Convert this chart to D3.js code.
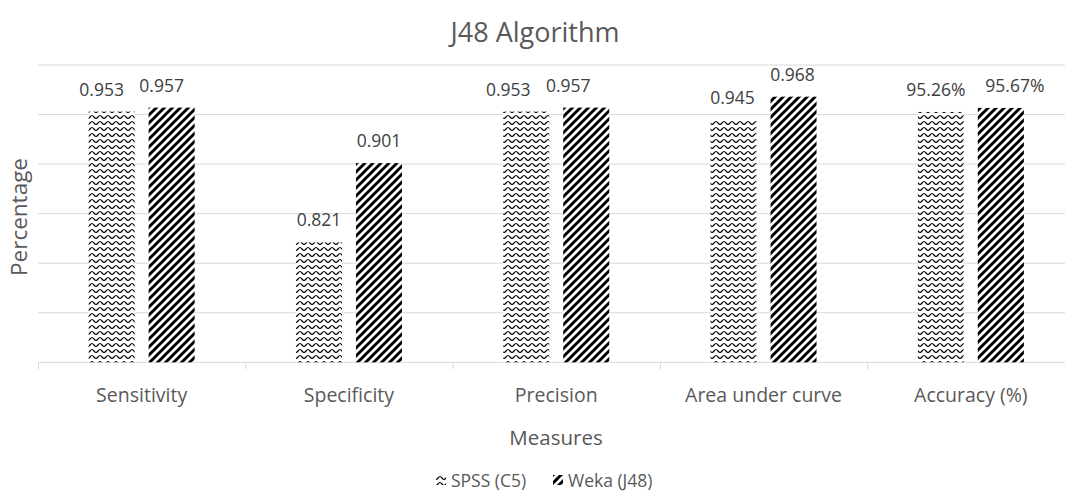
<!DOCTYPE html>
<html>
<head>
<meta charset="utf-8">
<script src="https://cdn.jsdelivr.net/npm/d3@7"></script>
<style>
  html, body { margin: 0; padding: 0; background: #fff; }
  svg { display: block; font-family: "Open Sans", "Noto Sans", sans-serif; }
</style>
</head>
<body>
<svg id="chart" width="1065" height="493"></svg>
<script>
// Measures compared between the two tools
const categories = ["Sensitivity", "Specificity", "Precision", "Area under curve", "Accuracy (%)"];
const seriesNames = ["SPSS (C5)", "Weka (J48)"];
const spssValues = [0.953, 0.821, 0.953, 0.945, 0.9526];
const wekaValues = [0.957, 0.901, 0.957, 0.968, 0.9567];
const spssLabels = ["0.953", "0.821", "0.953", "0.945", "95.26%"];
const wekaLabels = ["0.957", "0.901", "0.957", "0.968", "95.67%"];
const yTicks = [0.7, 0.75, 0.8, 0.85, 0.9, 0.95, 1.0];

(function () {
const svg = d3.select("#chart");
const defs = svg.append("defs");

// Wave fill for SPSS
const wave = defs.append("pattern").attr("id", "wave")
  .attr("patternUnits", "userSpaceOnUse").attr("width", 8).attr("height", 6);
wave.append("rect").attr("width", 8).attr("height", 6).attr("fill", "#fff");
wave.append("path").attr("d", "M0,4.5 C1.5,4.5 2.5,1.5 4,1.5 C5.5,1.5 6.5,4.5 8,4.5")
  .attr("fill", "none").attr("stroke", "#000").attr("stroke-width", 1.2);

// Wide upward diagonal fill for Weka
const diag = defs.append("pattern").attr("id", "diag")
  .attr("patternUnits", "userSpaceOnUse").attr("width", 8).attr("height", 8);
diag.append("rect").attr("width", 8).attr("height", 8).attr("fill", "#fff");
diag.append("path").attr("d", "M-2,2 L2,-2 M0,8 L8,0 M6,10 L10,6")
  .attr("stroke", "#000").attr("stroke-width", 3).attr("stroke-linecap", "square");

const fills = ["url(#wave)", "url(#diag)"];

const plotLeft = 38, plotRight = 1074.5, plotTop = 65, plotBottom = 362.3;

const x = d3.scaleBand().domain(categories).range([plotLeft, plotRight]).paddingInner(0).paddingOuter(0);
const barW = 46, barGap = 14;
const inner = d3.scaleBand().domain(seriesNames)
  .range([0, 2 * barW + barGap]).paddingInner(barGap / (barW + barGap)).paddingOuter(0);
const groupOffset = (x.bandwidth() - (2 * barW + barGap)) / 2;

const y = d3.scaleLinear().domain([0.7, 1.0]).range([plotBottom, plotTop]);

// Gridlines
svg.append("g").selectAll("line").data(yTicks.slice(1)).join("line")
  .attr("x1", plotLeft).attr("x2", plotRight)
  .attr("y1", d => y(d)).attr("y2", d => y(d))
  .attr("stroke", "#d9d9d9").attr("stroke-width", 1);

// Category axis
const xAxis = svg.append("g").attr("transform", `translate(0,${plotBottom})`)
  .call(d3.axisBottom(x).tickSize(0).tickPadding(0));
xAxis.select(".domain").attr("stroke", "#d9d9d9").attr("d", `M${plotLeft},0H${plotRight}`);
xAxis.selectAll(".tick").remove();
// Tick marks at category boundaries
const bounds = categories.map(c => x(c));
xAxis.selectAll("line.bound").data(bounds).join("line").attr("class", "bound")
  .attr("x1", d => d + 0.5).attr("x2", d => d + 0.5)
  .attr("y1", 0).attr("y2", 7).attr("stroke", "#d9d9d9");

svg.append("g").selectAll("text").data(categories).join("text")
  .attr("x", d => x(d) + x.bandwidth() / 2).attr("y", 402)
  .attr("text-anchor", "middle").attr("font-size", 19.5).attr("fill", "#595959")
  .text(d => d);

// Bars with their value labels (some labels nudged sideways to keep them apart)
const series = [spssValues, wekaValues];
const labels = [spssLabels, wekaLabels];
const labelShift = [[-10, 0, -18, -1, -5], [-10, 0, -18, -1, 14]];
series.forEach((vals, si) => {
  const g = svg.append("g");
  g.selectAll("rect").data(vals).join("rect")
    .attr("x", (d, i) => x(categories[i]) + groupOffset + inner(seriesNames[si]))
    .attr("width", inner.bandwidth())
    .attr("y", d => y(d))
    .attr("height", d => y(0.7) - y(d))
    .attr("fill", fills[si]);
  g.selectAll("text").data(vals).join("text")
    .attr("x", (d, i) => x(categories[i]) + groupOffset + inner(seriesNames[si]) + inner.bandwidth() / 2 + labelShift[si][i])
    .attr("y", d => y(d) - 16)
    .attr("text-anchor", "middle").attr("font-size", 17.5).attr("fill", "#404040")
    .text((d, i) => labels[si][i]);
});

// Title and axis titles
svg.append("text").attr("x", 535).attr("y", 42).attr("text-anchor", "middle")
  .attr("font-size", 27).attr("fill", "#595959").text("J48 Algorithm");
svg.append("text").attr("transform", `translate(27,217) rotate(-90)`)
  .attr("text-anchor", "middle").attr("font-size", 22.5).attr("fill", "#595959").text("Percentage");
svg.append("text").attr("x", 556).attr("y", 445).attr("text-anchor", "middle")
  .attr("font-size", 20.5).attr("fill", "#595959").text("Measures");

// Legend
const legendX = [436, 553];
const legend = svg.append("g").selectAll("g").data(seriesNames).join("g")
  .attr("transform", (d, i) => `translate(${legendX[i]},475)`);
legend.append("rect").attr("width", 10).attr("height", 10).attr("y", 0)
  .attr("fill", (d, i) => fills[i]);
legend.append("text").attr("x", 15).attr("y", 11.5).attr("font-size", 17.5).attr("fill", "#595959")
  .text(d => d);
})();
</script>
</body>
</html>
